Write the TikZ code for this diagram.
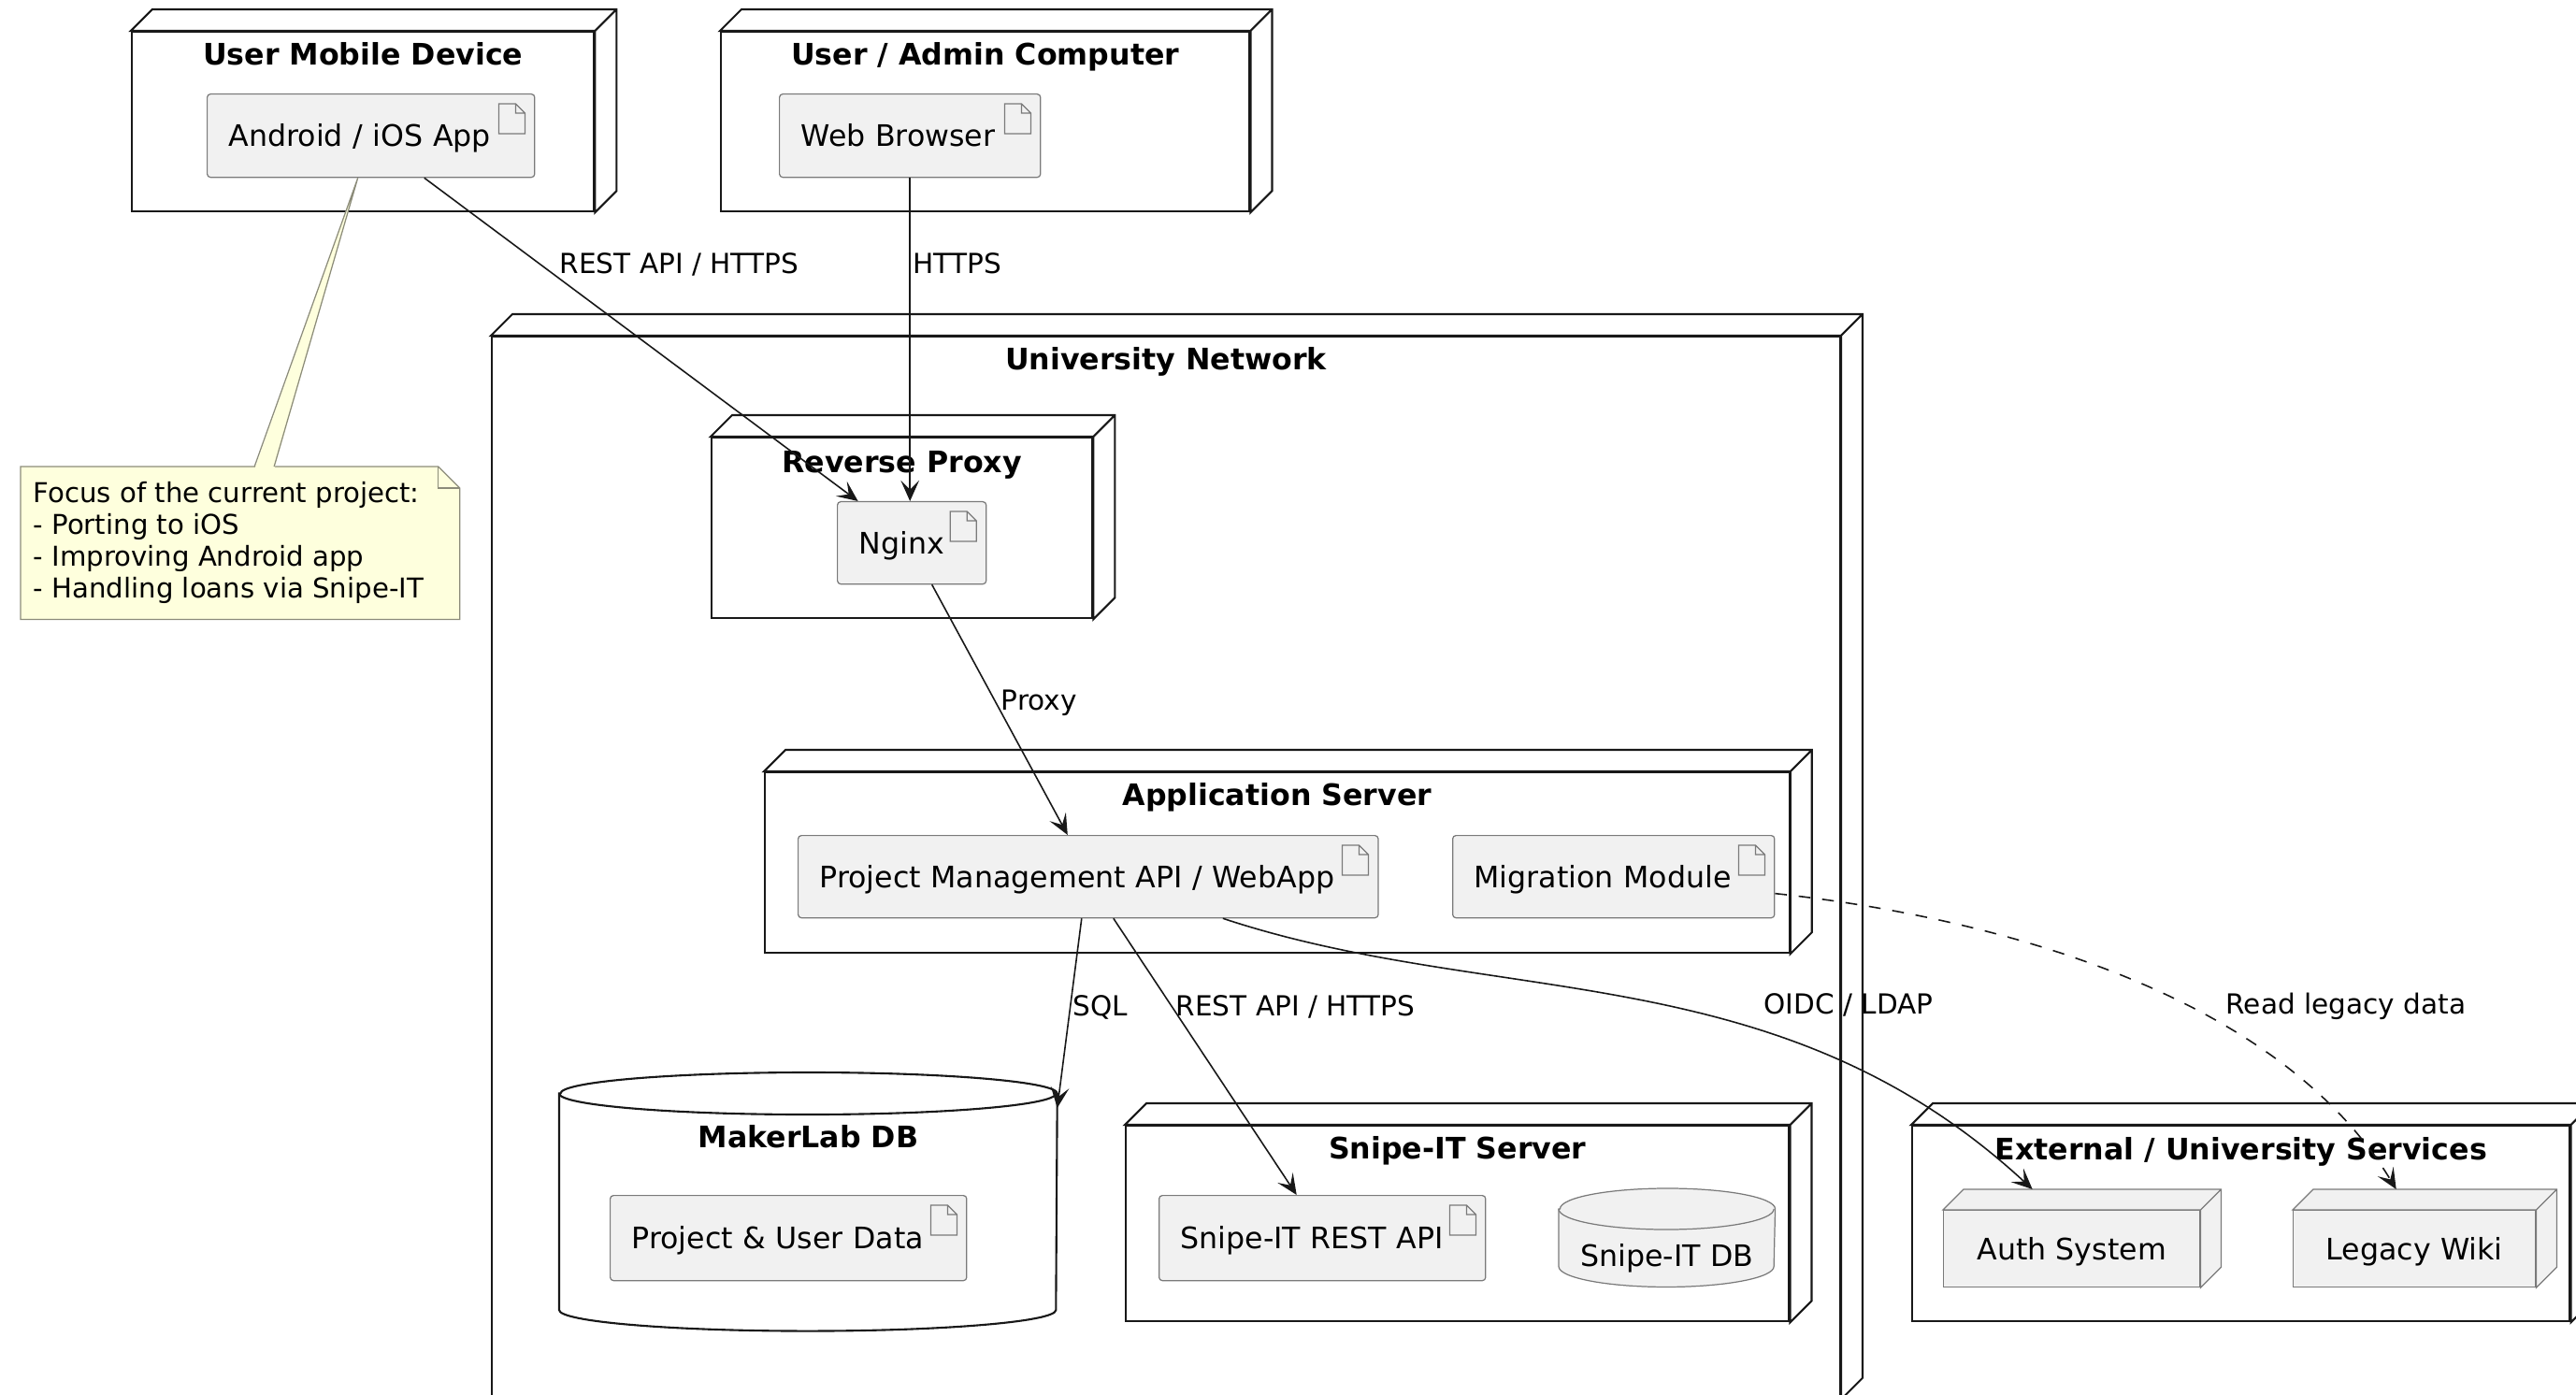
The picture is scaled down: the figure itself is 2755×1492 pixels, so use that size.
\documentclass[tikz,border=0pt]{standalone}
\usepackage{fontspec}
\setmainfont{DejaVu Sans}
\usepackage{xcolor}
\usepackage{tikz}
\usetikzlibrary{positioning,calc,arrows.meta}

\definecolor{edgeline}{HTML}{181818}
\definecolor{artfill}{HTML}{F1F1F1}
\definecolor{artline}{HTML}{7A7A7A}
\definecolor{notefill}{HTML}{FEFFDD}
\definecolor{noteline}{HTML}{8C8C7A}

\tikzset{
  container/.style={draw=edgeline, fill=white, line width=0.6pt, inner sep=0pt, anchor=north west},
  contface/.style={draw=edgeline, fill=white, line width=0.6pt},
  contitle/.style={font=\fontsize{9}{11}\selectfont\bfseries, inner sep=0pt, text height=8pt, text depth=1.5pt},
  artifact/.style={draw=artline, fill=artfill, line width=0.35pt, rounded corners=1pt,
    anchor=north west, inner xsep=0.23cm, inner ysep=0pt, minimum height=0.88cm,
    align=left, text height=8pt, text depth=1.5pt},
  docicon/.style={draw=artline, fill=artfill, line width=0.35pt},
  device/.style={draw=artline, fill=artfill, line width=0.35pt, anchor=north west,
    inner sep=0pt, minimum height=0.82cm, text height=8pt, text depth=1.5pt},
  devface/.style={draw=artline, fill=artfill, line width=0.35pt},
  dbnode/.style={inner sep=0pt, anchor=north west},
  dbsmall/.style={draw=artline, fill=artfill, line width=0.35pt},
  notebox/.style={draw=noteline, fill=notefill, line width=0.35pt},
  notetext/.style={anchor=west, inner sep=0pt, align=left, font=\fontsize{8.3}{9.67}\selectfont},
  conn/.style={->, draw=edgeline, line width=0.45pt},
  legacy/.style={conn, dash pattern=on 3.6pt off 3.6pt},
  elabel/.style={anchor=base west, inner sep=0pt, font=\fontsize{8.4}{10}\selectfont}
}

\begin{document}
\begin{tikzpicture}[x=0.01cm, y=-0.01cm, font=\fontsize{9}{11}\selectfont,
  >={Stealth[length=6.3pt,width=5.6pt,inset=2.8pt]}]
  \useasboundingbox (0,0) rectangle (2755,1492);

  % deployment nodes
  \node[container, minimum width=4.94cm, minimum height=1.92cm] (umd) at (140,33) {};
  \node[container, minimum width=5.65cm, minimum height=1.92cm] (uac) at (770,33) {};
  \node[container, minimum width=14.41cm, minimum height=11.35cm] (univ) at (525,359) {};
  \node[container, minimum width=4.07cm, minimum height=1.93cm] (proxy) at (760,467) {};
  \node[container, minimum width=10.95cm, minimum height=1.93cm] (appsrv) at (817,825) {};
  \node[container, minimum width=7.09cm, minimum height=2.09cm] (snipesrv) at (1203,1203) {};
  \node[container, minimum width=7.03cm, minimum height=2.09cm] (extsrv) at (2044,1203) {};

  % depth of the boxes
  \foreach \n in {umd,uac,univ,proxy,appsrv,snipesrv,extsrv}
    \filldraw[contface] (\n.north west) -- ++(23,-23) -- ($(\n.north east)+(23,-23)$)
      -- ($(\n.south east)+(23,-23)$) -- (\n.south east) -- (\n.north east) -- cycle
      (\n.north east) -- ++(23,-23);

  \node[contitle] (umd-t) at ([yshift=-0.25cm]umd.north) {User Mobile Device};
  \node[contitle] (uac-t) at ([yshift=-0.25cm]uac.north) {User / Admin Computer};
  \node[contitle] (univ-t) at ([yshift=-0.25cm]univ.north) {University Network};
  \node[contitle] (proxy-t) at ([yshift=-0.27cm]proxy.north) {Reverse Proxy};
  \node[contitle] (appsrv-t) at ([yshift=-0.25cm]appsrv.north) {Application Server};
  \node[contitle] (snipesrv-t) at ([yshift=-0.25cm]snipesrv.north) {Snipe-IT Server};
  \node[contitle] (extsrv-t) at ([yshift=-0.26cm]extsrv.north) {External / University Services};

  % database
  \node[dbnode, minimum width=5.31cm, minimum height=2.75cm] (makerdb) at (598,1147) {};
  \filldraw[contface] ([yshift=-0.225cm]makerdb.north west) -- ([yshift=0.225cm]makerdb.south west)
    arc[start angle=180, end angle=360, x radius=2.655cm, y radius=0.225cm]
    -- ([yshift=-0.225cm]makerdb.north east)
    arc[start angle=0, end angle=180, x radius=2.655cm, y radius=0.225cm] -- cycle;
  \draw[contface, fill=none] ([yshift=-0.225cm]makerdb.north west)
    arc[start angle=180, end angle=360, x radius=2.655cm, y radius=0.225cm];
  \node[contitle] (makerdb-t) at ([yshift=-0.69cm]makerdb.north) {MakerLab DB};

  % artifacts
  \node[artifact, text width=3.04cm, minimum height=0.89cm] (app) at (221,100) {Android / iOS App};
  \node[artifact, text width=2.33cm, minimum height=0.89cm] (browser) at (833,100) {Web Browser};
  \node[artifact, text width=1.13cm] (nginx) at (895,536) {Nginx};
  \node[artifact, text width=5.74cm] (pmapi) at (853,893) {Project Management API / WebApp};
  \node[artifact, text width=2.98cm] (migr) at (1553,893) {Migration Module};
  \node[artifact, text width=3.35cm, minimum height=0.91cm] (pudata) at (652,1278) {Project \& User Data};
  \node[artifact, text width=3.03cm, minimum height=0.91cm] (snipeapi) at (1239,1278) {Snipe-IT REST API};

  % document icons
  \foreach \n in {app,browser,nginx,pmapi,migr,pudata,snipeapi}
    \filldraw[docicon, shift={(\n.north east)}] (-39,11) -- (-21,11) -- (-11,21) -- (-11,43)
      -- (-39,43) -- cycle (-21,11) |- (-11,21);

  \node[dbnode, minimum width=2.30cm, minimum height=1.04cm] (snipedb) at (1667,1271) {};
  \filldraw[dbsmall] ([yshift=-0.22cm]snipedb.north west) -- ([yshift=0.22cm]snipedb.south west)
    arc[start angle=180, end angle=360, x radius=1.15cm, y radius=0.22cm]
    -- ([yshift=-0.22cm]snipedb.north east)
    arc[start angle=0, end angle=180, x radius=1.15cm, y radius=0.22cm] -- cycle;
  \draw[dbsmall, fill=none] ([yshift=-0.22cm]snipedb.north west)
    arc[start angle=180, end angle=360, x radius=1.15cm, y radius=0.22cm];
  \node[inner sep=0pt] (snipedb-t) at ([yshift=-0.22cm]snipedb.center) {Snipe-IT DB};

  % external systems
  \node[device, minimum width=2.74cm] (auth) at (2078,1294) {Auth System};
  \node[device, minimum width=2.59cm] (wiki) at (2452,1294) {Legacy Wiki};
  \foreach \n in {auth,wiki}
    \filldraw[devface] (\n.north west) -- ++(22,-22) -- ($(\n.north east)+(22,-22)$)
      -- ($(\n.south east)+(22,-22)$) -- (\n.south east) -- (\n.north east) -- cycle
      (\n.north east) -- ++(22,-22);

  % note
  \node[dbnode, minimum width=4.68cm, minimum height=1.62cm] (note) at (22,499) {};
  \filldraw[notebox] (note.north west) -- ([xshift=-0.23cm]note.north east)
    -- ([yshift=-0.23cm]note.north east) -- (note.south east) -- (note.south west) -- cycle;
  \draw[notebox, fill=none] ([xshift=-0.23cm]note.north east) |- ([yshift=-0.23cm]note.north east);
  \node[notetext] (note-t) at ([xshift=0.13cm]note.west)
    {Focus of the current project:\\- Porting to iOS\\- Improving Android app\\- Handling loans via Snipe-IT};
  \fill[notefill] ([xshift=2.50cm, yshift=-0.03cm]note.north west) -- ([xshift=-0.14cm]app.south)
    -- ([xshift=2.71cm, yshift=-0.03cm]note.north west) -- cycle;
  \draw[notebox, fill=none] ([xshift=2.50cm]note.north west) -- ([xshift=-0.14cm]app.south)
    -- ([xshift=2.71cm]note.north west);

  % connections
  \draw[conn] ([xshift=0.57cm]app.south) -- ([xshift=-0.575cm]nginx.north);
  \draw[conn] (browser.south) -- (browser.south |- nginx.north);
  \draw[conn] ([xshift=0.215cm]nginx.south) -- ([xshift=-0.22cm]pmapi.north);
  \draw[conn] ([xshift=-0.07cm]pmapi.south) -- ([yshift=-0.38cm]makerdb.north east);
  \draw[conn] ([xshift=0.27cm]pmapi.south) -- ([xshift=-0.275cm]snipeapi.north);
  \draw[conn] ([xshift=1.44cm]pmapi.south) .. controls +(293,97) and +(-273,-252)
    .. ([xshift=-0.42cm, yshift=0.22cm]auth.north);
  \draw[legacy] ([yshift=-0.18cm]migr.east) .. controls +(252,27) and +(-122,-202)
    .. ([xshift=-0.195cm, yshift=0.22cm]wiki.north);

  \node[elabel] (rest1-l) at (598,293) {REST API / HTTPS};
  \node[elabel] (https-l) at (976,293) {HTTPS};
  \node[elabel] (proxy-l) at (1070,760) {Proxy};
  \node[elabel] (sql-l) at (1147,1086) {SQL};
  \node[elabel] (rest2-l) at (1257,1086) {REST API / HTTPS};
  \node[elabel] (oidc-l) at (1886,1084) {OIDC / LDAP};
  \node[elabel] (legacy-l) at (2380,1084) {Read legacy data};

\end{tikzpicture}
\end{document}
